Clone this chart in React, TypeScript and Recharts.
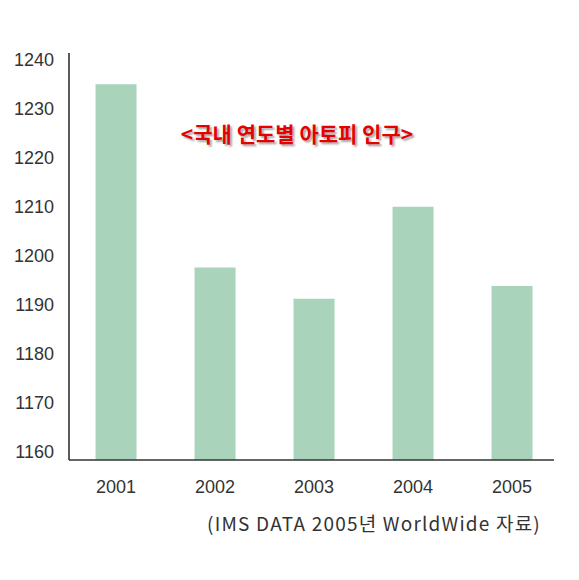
import React from "react";
import { BarChart, Bar, XAxis, YAxis } from "recharts";

const years = [2001, 2002, 2003, 2004, 2005];
const population = [1235, 1197.6, 1191.2, 1210, 1193.8];
const yTicks = [1160, 1170, 1180, 1190, 1200, 1210, 1220, 1230, 1240];
const titleText = "<국내 연도별 아토피 인구>";
const sourceText = "(IMS DATA 2005년 WorldWide 자료)";

const data = years.map((y, i) => ({ year: y, value: population[i] }));

const tickStyle = { fill: "#333", fontSize: 18, fontFamily: "'Liberation Sans', Arial, sans-serif" };

export default function App() {
  return (
    <div style={{ position: "absolute", left: 0, top: 0, width: 579, height: 580, background: "#fff" }}>
      <BarChart
        width={579}
        height={580}
        data={data}
        margin={{ top: 53, right: 25, bottom: 0, left: 0 }}
      >
        <XAxis
          dataKey="year"
          type="number"
          domain={[2000.525, 2005.424]}
          ticks={years}
          allowDataOverflow
          tickLine={false}
          tickSize={6}
          tickMargin={14}
          axisLine={{ stroke: "#333", strokeWidth: 1.6 }}
          tick={tickStyle}
          height={120}
        />
        <YAxis
          domain={[1158.3, 1241.37]}
          ticks={yTicks}
          allowDataOverflow
          tickLine={false}
          tickSize={6}
          tickMargin={9}
          width={69}
          axisLine={{ stroke: "#333", strokeWidth: 1.6 }}
          tick={tickStyle}
        />
        <Bar dataKey="value" fill="#a9d4bb" barSize={41} isAnimationActive={false} />
      </BarChart>
      <div
        style={{
          position: "absolute",
          left: 297,
          top: 133,
          transform: "translate(-50%, -50%)",
          whiteSpace: "nowrap",
          color: "#e60000",
          fontWeight: "bold",
          fontSize: 21,
          fontFamily: "'Noto Sans CJK KR', sans-serif",
          textShadow: "2px 2px 2px rgba(0,0,0,0.35)",
        }}
      >
        {titleText}
      </div>
      <div
        style={{
          position: "absolute",
          right: 579 - 541,
          top: 522,
          transform: "translateY(-50%)",
          whiteSpace: "nowrap",
          color: "#333",
          fontSize: 19,
          letterSpacing: 1.2,
          fontFamily: "'Noto Sans CJK KR', sans-serif",
        }}
      >
        {sourceText}
      </div>
    </div>
  );
}
